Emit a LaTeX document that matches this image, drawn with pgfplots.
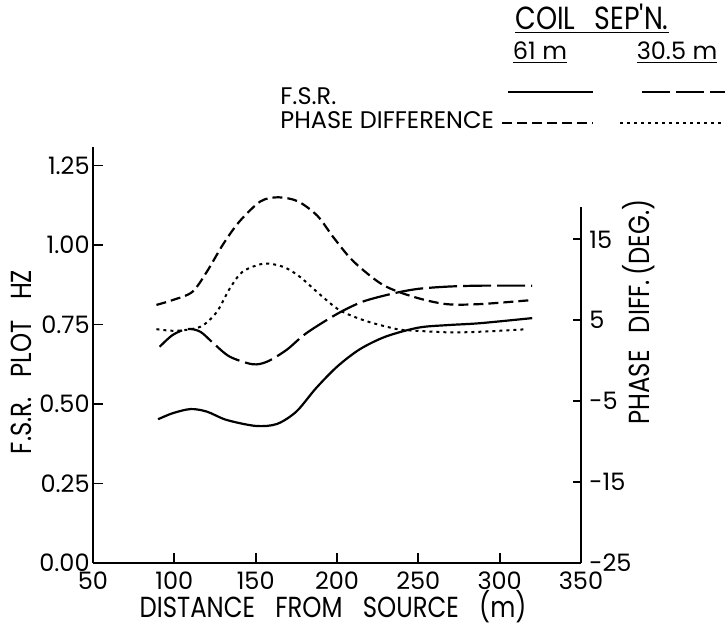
\documentclass[border=0pt]{standalone}
\usepackage{pgfplots}
\pgfplotsset{compat=1.18}
\usepackage{fontspec}
\setmainfont{Poppins}
\newfontfamily\condfont[FakeStretch=0.84]{Poppins}
\pgfplotstableread{
x y
90 0.452
99 0.471
110 0.484
120 0.476
132 0.450
150 0.431
163 0.437
175 0.476
187 0.549
200 0.617
214 0.672
230 0.712
250 0.740
268 0.748
288 0.754
320 0.770
}\fsrA
\pgfplotstableread{
x y
91 0.680
99 0.717
108 0.736
116 0.727
124 0.691
134 0.649
148 0.625
157 0.633
169 0.670
181 0.722
200 0.783
216 0.822
235 0.848
250 0.862
268 0.869
288 0.872
320 0.872
}\fsrB
\pgfplotstableread{
x y
89 6.9
99 7.5
111 8.5
120 11.0
130 14.4
140 17.2
153 19.7
164 20.2
176 19.7
188 17.9
198 15.2
210 12.3
228 9.4
247 7.9
267 7.0
288 7.0
320 7.5
}\phA
\pgfplotstableread{
x y
89 3.9
101 3.7
116 4.2
126 6.0
134 8.9
142 11.0
155 12.0
167 11.6
177 10.4
190 8.1
202 6.2
218 4.9
237 3.9
249 3.7
270 3.5
290 3.6
317 3.9
}\phB
\tikzset{
  solidA/.style={line width=1.1pt},
  longdashB/.style={line width=1.1pt, dash pattern=on 14pt off 3pt},
  dashA/.style={line width=1.1pt, dash pattern=on 5pt off 2.5pt},
  dotB/.style={line width=1.0pt, dash pattern=on 1.5pt off 2pt},
}
\begin{document}
\fontsize{12}{14}\selectfont
\begin{tikzpicture}[x=0.5pt,y=-0.5pt]
\useasboundingbox (0,0) rectangle (725,626);
\begin{axis}[at={(46.5pt,-281.5pt)}, anchor=south west, scale only axis,
  width=244pt, height=208pt, xmin=50, xmax=350, ymin=0, ymax=1.308,
  axis x line=bottom, axis y line=left,
  axis line style={-, line width=0.9pt},
  every tick/.style={black, line width=0.9pt},
  tick align=inside, major tick length=5pt,
  xtick={50,100,150,200,250,300,350},
  xticklabels={50,100,150,200,250,300,350},
  ytick={0,0.25,0.5,0.75,1,1.25},
  yticklabels={0.00,0.25,0.50,0.75,1.00,1.25},
  ticklabel style={font=\fontsize{12}{14}\selectfont},
  xticklabel style={yshift=0pt},
  yticklabel style={inner xsep=1.5pt},
  ]
\addplot[solidA, smooth, tension=0.5] table[x=x,y=y] {\fsrA};
\addplot[longdashB, smooth, tension=0.5] table[x=x,y=y] {\fsrB};
\end{axis}
\begin{axis}[at={(46.5pt,-281.5pt)}, anchor=south west, scale only axis,
  width=244pt, height=178pt, xmin=50, xmax=350, ymin=-25, ymax=19,
  axis x line=none, axis y line=right, clip=false,
  axis line style={-, line width=0.9pt},
  every tick/.style={black, line width=0.9pt},
  tick align=inside, major tick length=4pt,
  ytick={-25,-15,-5,5,15},
  yticklabels={-25,-15,-5,5,15},
  ticklabel style={font=\fontsize{12}{14}\selectfont},
  ]
\addplot[dashA, smooth, tension=0.5] table[x=x,y=y] {\phA};
\addplot[dotB, smooth, tension=0.5] table[x=x,y=y] {\phB};
\end{axis}
% axis titles
\node[rotate=90, font=\condfont\fontsize{14.5}{16}\selectfont] at (21,362) {F.S.R.\hspace{0.7em}PLOT\hspace{0.7em}HZ};
\node[rotate=90, font=\condfont\fontsize{14.5}{16}\selectfont] at (639,312) {PHASE\hspace{0.6em}DIFF.\,(DEG.)};
\node[font=\condfont\fontsize{14.5}{16}\selectfont] at (333,607) {DISTANCE\hspace{0.7em}FROM\hspace{0.7em}SOURCE\hspace{0.7em}(m)};
% legend
\node[font=\condfont\fontsize{16}{18}\selectfont] at (592,19) {\underline{COIL\hspace{0.6em}SEP'N.}};
\node at (540,53) {\underline{61 m}};
\node at (677,53) {\underline{30.5 m}};
\node[anchor=west] at (272,96) {F.S.R.};
\node[anchor=west] at (272,120) {PHASE DIFFERENCE};
\draw[solidA] (508,92) -- (593,92);
\draw[longdashB] (642,92) -- (725,92);
\draw[dashA] (502,123) -- (593,123);
\draw[dotB] (620,123) -- (725,123);
\end{tikzpicture}
\end{document}
